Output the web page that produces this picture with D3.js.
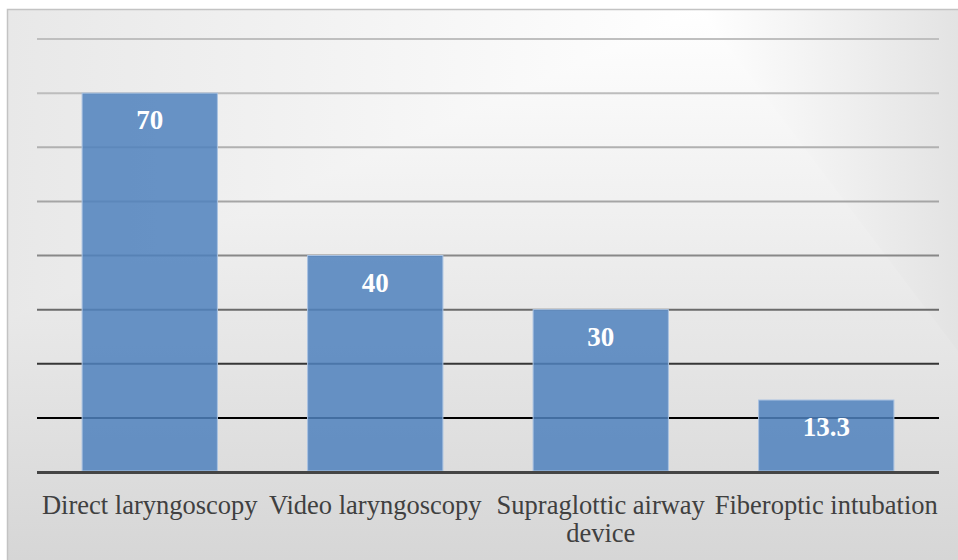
<!DOCTYPE html>
<html>
<head>
<meta charset="utf-8">
<script src="https://cdn.jsdelivr.net/npm/d3@7"></script>
<style>
  html, body { margin: 0; padding: 0; background: #fff; }
  svg { display: block; }
</style>
</head>
<body>
<svg id="chart" width="958" height="560"></svg>
<script>
// Airway technique bar chart
const categories = ["Direct laryngoscopy", "Video laryngoscopy", "Supraglottic airway device", "Fiberoptic intubation"];
const values = [70, 40, 30, 13.3];
const valueLabels = ["70", "40", "30", "13.3"];
const gridTicks = [10, 20, 30, 40, 50, 60, 70, 80];

const W = 958, H = 560;
const box = {x: 7.5, y: 9.5};
const plot = {left: 37, right: 939, top: 39, bottom: 472};

const svg = d3.select("#chart");
const defs = svg.append("defs");

// background: max of a vertical and a horizontal ramp (rectangular-ish fill)
const vGrad = defs.append("linearGradient").attr("id", "bgV")
  .attr("gradientUnits", "userSpaceOnUse")
  .attr("x1", 0).attr("y1", box.y).attr("x2", 0).attr("y2", H);
vGrad.append("stop").attr("offset", 0).attr("stop-color", "#ffffff");
vGrad.append("stop").attr("offset", 1).attr("stop-color", "#d6d6d6");

const lGrad = defs.append("linearGradient").attr("id", "bgL")
  .attr("gradientUnits", "userSpaceOnUse")
  .attr("x1", 700).attr("y1", 0).attr("x2", box.x).attr("y2", 0);
lGrad.append("stop").attr("offset", 0).attr("stop-color", "#ffffff");
lGrad.append("stop").attr("offset", 1).attr("stop-color", "#e8e8e8");

const rGrad = defs.append("linearGradient").attr("id", "bgR")
  .attr("gradientUnits", "userSpaceOnUse")
  .attr("x1", 700).attr("y1", 0).attr("x2", W).attr("y2", 0);
rGrad.append("stop").attr("offset", 0).attr("stop-color", "#ffffff");
rGrad.append("stop").attr("offset", 1).attr("stop-color", "#e3e3e3");

svg.append("rect").attr("x", box.x).attr("y", box.y)
  .attr("width", W - box.x + 2).attr("height", H - box.y + 2)
  .attr("fill", "url(#bgV)");
svg.append("path").attr("d", `M700,${box.y}L${box.x},${box.y}L${box.x},321Z`).attr("fill", "url(#bgL)");
svg.append("path").attr("d", `M700,${box.y}L${W + 2},${box.y}L${W + 2},354Z`).attr("fill", "url(#bgR)");

// frame
svg.append("path")
  .attr("d", `M${box.x},${H + 2}V${box.y}H${W + 2}`)
  .attr("fill", "none").attr("stroke", "#c3c3c3").attr("stroke-width", 1.5);

const x = d3.scaleBand().domain(categories).range([plot.left, plot.right])
  .paddingInner(0.4).paddingOuter(0.2);
const y = d3.scaleLinear().domain([0, 80]).range([plot.bottom, plot.top]);

const gridColor = d3.scaleLinear()
  .domain([10, 30, 50, 70, 80])
  .range(["#000000", "#6b6b6b", "#a5a5a5", "#bdbdbd", "#bfbfbf"]);

svg.append("g").selectAll("line").data(gridTicks).join("line")
  .attr("x1", plot.left).attr("x2", plot.right)
  .attr("y1", d => y(d)).attr("y2", d => y(d))
  .attr("stroke", d => gridColor(d)).attr("stroke-width", 2);

// bars
svg.append("g").selectAll("rect").data(values).join("rect")
  .attr("x", (d, i) => x(categories[i]))
  .attr("width", x.bandwidth())
  .attr("y", d => y(d))
  .attr("height", d => y(0) - y(d) - 1)
  .attr("fill", "#4f81bd").attr("fill-opacity", 0.85)
  .attr("stroke", "#a9c2e2").attr("stroke-width", 1);

// baseline
svg.append("line")
  .attr("x1", plot.left).attr("x2", plot.right)
  .attr("y1", y(0) + 0.5).attr("y2", y(0) + 0.5)
  .attr("stroke", "#454545").attr("stroke-width", 3);

// value labels
svg.append("g").selectAll("text").data(values).join("text")
  .attr("x", (d, i) => x(categories[i]) + x.bandwidth() / 2)
  .attr("y", d => y(d) + 36)
  .attr("text-anchor", "middle")
  .attr("font-family", "'Liberation Serif', 'Times New Roman', serif")
  .attr("font-weight", "bold").attr("font-size", 27)
  .attr("fill", "#ffffff")
  .text((d, i) => valueLabels[i]);

// category labels, wrapped to the band step
const labelG = svg.append("g")
  .attr("font-family", "'Liberation Serif', 'Times New Roman', serif")
  .attr("font-size", 26.5).attr("fill", "#404040").attr("text-anchor", "middle");

categories.forEach(c => {
  const t = labelG.append("text").attr("x", x(c) + x.bandwidth() / 2).attr("y", 513.5);
  const words = c.split(" ");
  let line = [];
  let ts = t.append("tspan").attr("x", x(c) + x.bandwidth() / 2).attr("dy", 0);
  words.forEach(w => {
    line.push(w);
    ts.text(line.join(" "));
    if (ts.node().getComputedTextLength() > x.step() + 8 && line.length > 1) {
      line.pop();
      ts.text(line.join(" "));
      line = [w];
      ts = t.append("tspan").attr("x", x(c) + x.bandwidth() / 2).attr("dy", 28).text(w);
    }
  });
});
</script>
</body>
</html>
